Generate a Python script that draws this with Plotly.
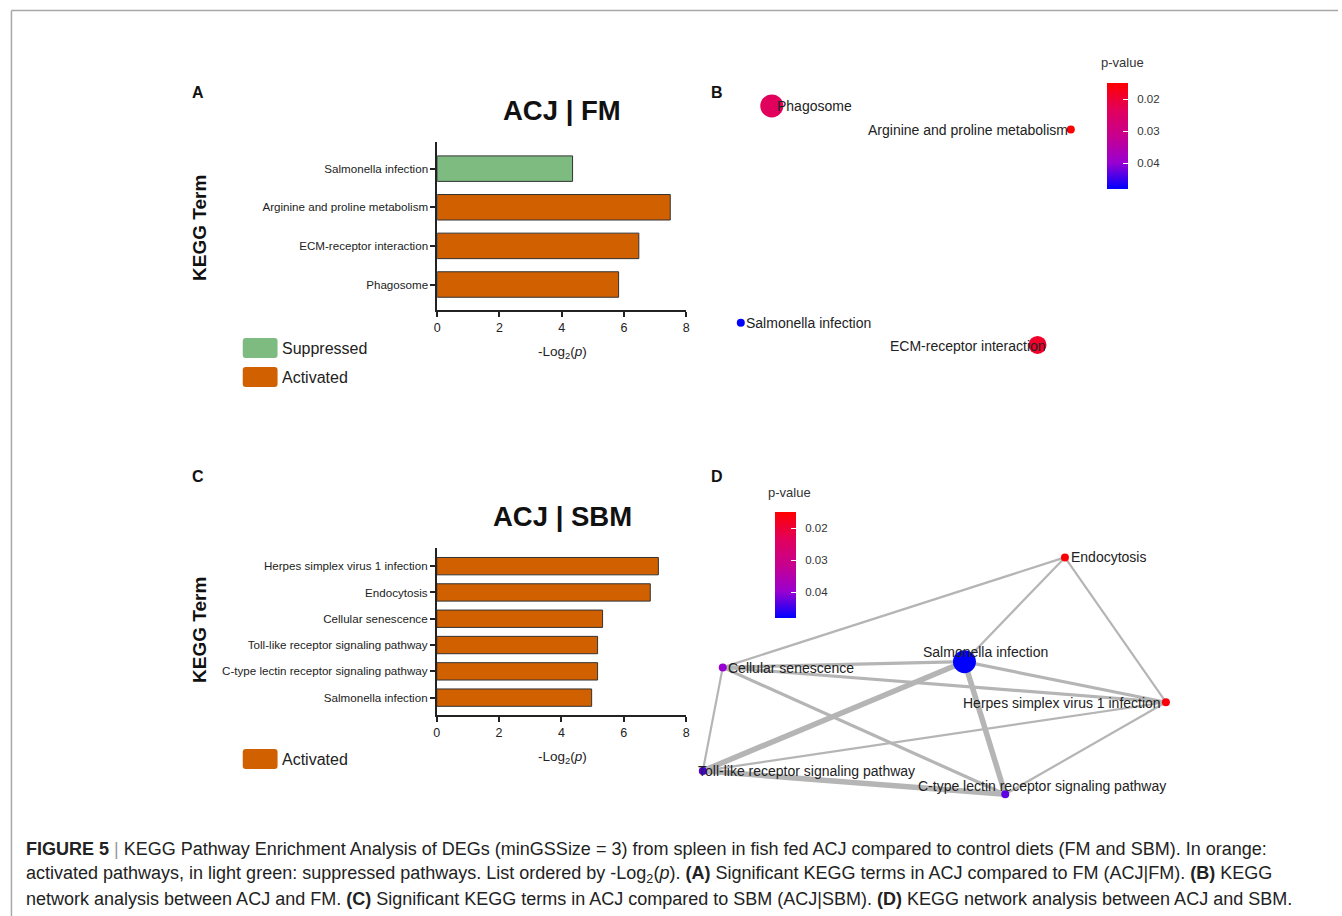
import plotly.graph_objects as go

W, H = 1342, 916

# ---------------- data ----------------
# Panel A (ACJ | FM)
a_terms = ["Salmonella infection", "Arginine and proline metabolism",
           "ECM-receptor interaction", "Phagosome"]
a_values = [4.35, 7.49, 6.48, 5.83]
a_status = ["Suppressed", "Activated", "Activated", "Activated"]

# Panel C (ACJ | SBM)
c_terms = ["Herpes simplex virus 1 infection", "Endocytosis", "Cellular senescence",
           "Toll-like receptor signaling pathway",
           "C-type lectin receptor signaling pathway", "Salmonella infection"]
c_values = [7.11, 6.85, 5.32, 5.16, 5.16, 4.97]
c_status = ["Activated"] * 6

x_ticks = [0, 2, 4, 6, 8]
status_colors = {"Suppressed": "#7dbb80", "Activated": "#d06000"}

# Panel B network (layout coordinates 0..1)
b_nodes = ["Phagosome", "Arginine and proline metabolism",
           "Salmonella infection", "ECM-receptor interaction"]
b_x = [0.139, 0.930, 0.057, 0.842]
b_y = [0.941, 0.854, 0.138, 0.056]
b_p = [0.0235, 0.015, 0.048, 0.019]
b_count = [4, 1, 1, 3]
b_label_x = [0.150, 0.926, 0.068, 0.868]
b_label_y = [0.941, 0.852, 0.137, 0.052]
b_label_anchor = ["left", "right", "left", "right"]

# Panel D network (layout coordinates 0..1)
d_nodes = ["Endocytosis", "Salmonella infection", "Cellular senescence",
           "Herpes simplex virus 1 infection",
           "Toll-like receptor signaling pathway",
           "C-type lectin receptor signaling pathway"]
d_x = [0.755, 0.553, 0.067, 0.958, 0.027, 0.635]
d_y = [0.933, 0.532, 0.510, 0.376, 0.112, 0.022]
d_p = [0.0155, 0.0481, 0.040, 0.016, 0.044, 0.043]
d_count = [1, 4, 1, 1, 1, 1]
d_label_x = [0.766, 0.596, 0.076, 0.950, 0.016, 0.709]
d_label_y = [0.935, 0.569, 0.508, 0.373, 0.112, 0.054]
d_label_anchor = ["left", "center", "left", "right", "left", "center"]
d_edge_src = [0, 0, 0, 1, 1, 1, 1, 2, 2, 2, 4, 4, 5]
d_edge_dst = [2, 1, 3, 2, 3, 4, 5, 3, 4, 5, 3, 5, 3]
d_edge_weight = [1, 1, 1, 2, 2, 3, 3, 2, 1, 2, 1, 3, 1]

p_ticks = [0.02, 0.03, 0.04]
p_min, p_max = 0.015, 0.0481

# ---------------- helpers ----------------
FONT = "Liberation Sans, Arial, sans-serif"
TXT = "#222222"
NB = "\u00a0"


def px(x):
    return x / W


def py(y):
    return 1 - y / H


def node_size(c):
    return 8 + (c - 1) * 5


edge_width = {1: 2.2, 2: 3.2, 3: 5.5}
cscale = [[0.0, "#0000FF"], [0.25, "#9A00D0"], [0.5, "#C7008F"],
          [0.75, "#E2005A"], [1.0, "#FF0000"]]

fig = go.Figure()

# ---------------- bar charts ----------------
fig.add_trace(go.Bar(
    x=a_values, y=a_terms, orientation="h", width=0.66,
    marker=dict(color=[status_colors[s] for s in a_status],
                line=dict(color="#333333", width=1)),
    xaxis="x", yaxis="y", showlegend=False, hoverinfo="x+y"))
fig.add_trace(go.Bar(
    x=c_values, y=c_terms, orientation="h", width=0.66,
    marker=dict(color=[status_colors[s] for s in c_status],
                line=dict(color="#333333", width=1)),
    xaxis="x2", yaxis="y2", showlegend=False, hoverinfo="x+y"))


def bar_axes(xdom, ydom, n, anchor_x, anchor_y):
    xa = dict(domain=xdom, range=[0, 8], tickvals=x_ticks, ticks="outside",
              ticklen=5, tickwidth=1.5, tickcolor="#222", showline=True,
              linewidth=1.6, linecolor="#222", showgrid=False, zeroline=False,
              tickfont=dict(size=12.5, color=TXT, family=FONT),
              anchor=anchor_y, fixedrange=True)
    ya = dict(domain=ydom, type="category", range=[n - 1 + 0.66, -0.69],
              ticks="outside", ticklen=5, tickwidth=1.5, tickcolor="#222",
              showline=True, linewidth=1.6, linecolor="#222", showgrid=False,
              zeroline=False, tickfont=dict(size=11.6, color=TXT, family=FONT),
              anchor=anchor_x, fixedrange=True)
    return xa, ya


xa1, ya1 = bar_axes([px(436.5), px(686.7)], [py(310), py(142)], len(a_terms), "x", "y")
xa2, ya2 = bar_axes([px(436.0), px(686.7)], [py(715), py(548)], len(c_terms), "x2", "y2")


def cbar(xpix, ytop):
    return dict(x=px(xpix), xanchor="left", y=py(ytop), yanchor="top",
                len=106, lenmode="pixels", thickness=21, thicknessmode="pixels",
                outlinewidth=0, xpad=0, ypad=0,
                ticks="inside", ticklen=5, tickcolor="white", tickwidth=1,
                tickvals=[-t for t in p_ticks],
                ticktext=[NB + NB + f"{t:.2f}" for t in p_ticks],
                tickfont=dict(size=11.5, color="#333", family=FONT))


# ---------------- networks ----------------
fig.add_trace(go.Scatter(
    x=b_x, y=b_y, mode="markers", xaxis="x3", yaxis="y3", showlegend=False,
    text=b_nodes, hoverinfo="text",
    marker=dict(size=[node_size(c) for c in b_count], opacity=1,
                color=[-p for p in b_p], colorscale=cscale,
                cmin=-p_max, cmax=-p_min, line=dict(width=0),
                colorbar=cbar(1110, 83))))

for s, d, w in zip(d_edge_src, d_edge_dst, d_edge_weight):
    fig.add_trace(go.Scatter(
        x=[d_x[s], d_x[d]], y=[d_y[s], d_y[d]], mode="lines",
        line=dict(color="#b5b5b5", width=edge_width[w]),
        xaxis="x4", yaxis="y4", showlegend=False, hoverinfo="skip"))

fig.add_trace(go.Scatter(
    x=d_x, y=d_y, mode="markers", xaxis="x4", yaxis="y4", showlegend=False,
    text=d_nodes, hoverinfo="text",
    marker=dict(size=[node_size(c) for c in d_count], opacity=1,
                color=[-p for p in d_p], colorscale=cscale,
                cmin=-p_max, cmax=-p_min, line=dict(width=0),
                colorbar=cbar(776, 512))))

hidden = dict(visible=False, range=[0, 1], showgrid=False, zeroline=False,
              fixedrange=True)

annotations = []


def ann(text, x, y, size, xanchor="center", yanchor="middle", bold=False,
        color=TXT, angle=0, xref="paper", yref="paper"):
    annotations.append(dict(
        text=f"<b>{text}</b>" if bold else text, x=x, y=y, xref=xref, yref=yref,
        xanchor=xanchor, yanchor=yanchor, showarrow=False, textangle=angle,
        borderpad=0, font=dict(size=size, color=color, family=FONT)))


for t, lx, ly, an in zip(b_nodes, b_label_x, b_label_y, b_label_anchor):
    ann(t, lx, ly, 14, xanchor=an, xref="x3", yref="y3")
for t, lx, ly, an in zip(d_nodes, d_label_x, d_label_y, d_label_anchor):
    ann(t, lx, ly, 14, xanchor=an, xref="x4", yref="y4")

ann("ACJ | FM", px(562), py(110), 27.5, bold=True, color="#111")
ann("ACJ | SBM", px(562), py(516), 27.5, bold=True, color="#111")
ann("-Log<sub>2</sub>(<i>p</i>)", px(562), py(352), 13.5)
ann("-Log<sub>2</sub>(<i>p</i>)", px(562), py(757), 13.5)
ann("KEGG Term", px(197), py(228), 19, bold=True, angle=-90, color="#111")
ann("KEGG Term", px(197), py(630), 19, bold=True, angle=-90, color="#111")

ann("A", px(196), py(92), 16, bold=True, color="#111")
ann("B", px(718), py(92), 16, bold=True, color="#111")
ann("C", px(196), py(477), 16, bold=True, color="#111")
ann("D", px(718), py(477), 16, bold=True, color="#111")

ann("p-value", px(1125), py(63), 13, color="#333")
ann("p-value", px(791), py(492), 13, color="#333")

# legends
legend_items = [("Suppressed", 348), ("Activated", 377), ("Activated", 759)]
shapes = []


def rounded_rect(x0, y0, x1, y1, r):
    X = lambda v: px(v)
    Y = lambda v: py(v)
    return (f"M {X(x0 + r)},{Y(y0)} L {X(x1 - r)},{Y(y0)} "
            f"Q {X(x1)},{Y(y0)} {X(x1)},{Y(y0 + r)} L {X(x1)},{Y(y1 - r)} "
            f"Q {X(x1)},{Y(y1)} {X(x1 - r)},{Y(y1)} L {X(x0 + r)},{Y(y1)} "
            f"Q {X(x0)},{Y(y1)} {X(x0)},{Y(y1 - r)} L {X(x0)},{Y(y0 + r)} "
            f"Q {X(x0)},{Y(y0)} {X(x0 + r)},{Y(y0)} Z")


for label, yc in legend_items:
    shapes.append(dict(type="path", xref="paper", yref="paper",
                       path=rounded_rect(241, yc - 10, 276, yc + 10, 3),
                       fillcolor=status_colors[label], line=dict(width=0)))
    ann(label, px(279), py(yc), 16, xanchor="left", color="#222")

# frame
shapes.append(dict(type="line", xref="paper", yref="paper", x0=px(8.5), x1=1,
                   y0=py(10.5), y1=py(10.5), line=dict(color="#a8a8a8", width=1.5)))
shapes.append(dict(type="line", xref="paper", yref="paper", x0=px(8.5), x1=px(8.5),
                   y0=py(10.5), y1=0, line=dict(color="#a8a8a8", width=1.5)))

cap = [
    "<b>FIGURE 5</b> <span style='color:#999'>|</span> KEGG Pathway Enrichment Analysis of DEGs (minGSSize = 3) from spleen in fish fed ACJ compared to control diets (FM and SBM). In orange:",
    "activated pathways, in light green: suppressed pathways. List ordered by -Log<sub>2</sub>(<i>p</i>). <b>(A)</b> Significant KEGG terms in ACJ compared to FM (ACJ|FM). <b>(B)</b> KEGG",
    "network analysis between ACJ and FM. <b>(C)</b> Significant KEGG terms in ACJ compared to SBM (ACJ|SBM). <b>(D)</b> KEGG network analysis between ACJ and SBM.",
]
for line, yc in zip(cap, [849, 874, 899]):
    ann(line, px(22), py(yc), 18, xanchor="left", color="#222")

fig.update_layout(
    width=W, height=H, autosize=False,
    margin=dict(l=0, r=0, t=0, b=0),
    paper_bgcolor="white", plot_bgcolor="rgba(0,0,0,0)",
    font=dict(family=FONT, color=TXT),
    showlegend=False,
    xaxis=xa1, yaxis=ya1, xaxis2=xa2, yaxis2=ya2,
    xaxis3=dict(hidden, domain=[px(720), px(1100)], anchor="y3"),
    yaxis3=dict(hidden, domain=[py(360), py(90)], anchor="x3"),
    xaxis4=dict(hidden, domain=[px(690), px(1190)], anchor="y4"),
    yaxis4=dict(hidden, domain=[py(800), py(540)], anchor="x4"),
    annotations=annotations, shapes=shapes,
)

fig.write_html("out.html", post_script="document.body.style.margin='0';",
               config={"displayModeBar": False})
